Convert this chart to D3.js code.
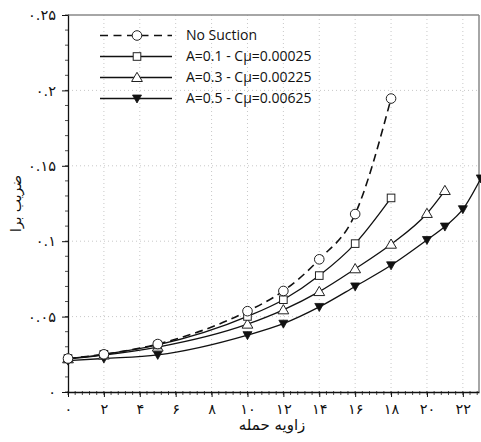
<!DOCTYPE html>
<html><head><meta charset="utf-8">
<script src="https://cdn.jsdelivr.net/npm/d3@7"></script>
<style>
html,body{margin:0;padding:0;background:#fff;}
svg{display:block;}
</style></head>
<body>
<svg id="chart" width="481" height="442"></svg>
<script>
// ---- data ----
const seriesNames = ["No Suction", "A=0.1 - Cμ=0.00025", "A=0.3 - Cμ=0.00225", "A=0.5 - Cμ=0.00625"];
const noSuctionX = [0, 2, 5, 10, 12, 14, 16, 18];
const noSuctionY = [0.0222, 0.0250, 0.0318, 0.0536, 0.0670, 0.0880, 0.1180, 0.1946];
const a01X = [0, 2, 5, 10, 12, 14, 16, 18];
const a01Y = [0.0222, 0.0250, 0.0312, 0.0501, 0.0612, 0.0772, 0.0984, 0.1287];
const a03X = [0, 2, 5, 10, 12, 14, 16, 18, 20, 21];
const a03Y = [0.0220, 0.0245, 0.0298, 0.0450, 0.0545, 0.0666, 0.0817, 0.0980, 0.1184, 0.1336];
const a05X = [0, 2, 5, 10, 12, 14, 16, 18, 20, 21, 22, 23];
const a05Y = [0.0208, 0.0222, 0.0246, 0.0377, 0.0453, 0.0564, 0.0700, 0.0840, 0.1008, 0.1097, 0.1212, 0.1416];
const xTicks = [0, 2, 4, 6, 8, 10, 12, 14, 16, 18, 20, 22];
const yTicks = [0, 0.05, 0.1, 0.15, 0.2, 0.25];
const xTitle = "زاویه حمله";
const yTitle = "ضریب برا";

// ---- layout ----
const svg = d3.select("#chart");
const L = 68, R = 479, T = 15, B = 392;
const x = d3.scaleLinear().domain([0, 22.9]).range([L, R]);
const y = d3.scaleLinear().domain([0, 0.25]).range([B, T]);

const fa = s => String(s).replace(/[0-9]/g, d => "۰۱۲۳۴۵۶۷۸۹"[+d]);
const fmtY = v => v === 0 ? fa("0") : fa(d3.format(".2~f")(v));

// grid
const g = svg.append("g");
g.selectAll(".gx").data(xTicks.filter(t => t > 0)).join("line")
  .attr("x1", d => x(d)).attr("x2", d => x(d)).attr("y1", T).attr("y2", B)
  .attr("stroke", "#c8c8c8").attr("stroke-width", 1).attr("stroke-dasharray", "1,3");
g.selectAll(".gy").data(yTicks.filter(t => t > 0 && t < 0.25)).join("line")
  .attr("x1", L).attr("x2", R).attr("y1", d => y(d)).attr("y2", d => y(d))
  .attr("stroke", "#c8c8c8").attr("stroke-width", 1).attr("stroke-dasharray", "1,3");

// frame top/right (gray)
svg.append("line").attr("x1", L).attr("x2", R).attr("y1", T).attr("y2", T).attr("stroke", "#888").attr("stroke-width", 1.5);
svg.append("line").attr("x1", R).attr("x2", R).attr("y1", T).attr("y2", B).attr("stroke", "#888").attr("stroke-width", 1.5);

// minor ticks
const xMinor = d3.range(0, 22.9, 0.4);
svg.append("g").selectAll("line").data(xMinor).join("line")
  .attr("x1", d => x(d)).attr("x2", d => x(d)).attr("y1", B - 1).attr("y2", B + 3)
  .attr("stroke", "#222").attr("stroke-width", 0.8);
const yMinor = d3.range(0, 0.2501, 0.01);
svg.append("g").selectAll("line").data(yMinor).join("line")
  .attr("x1", L - 3).attr("x2", L + 1).attr("y1", d => y(d)).attr("y2", d => y(d))
  .attr("stroke", "#222").attr("stroke-width", 0.8);

// axes
const xAxis = d3.axisBottom(x).tickValues(xTicks).tickSize(5).tickSizeOuter(0).tickPadding(7).tickFormat(d => fa(d));
const yAxis = d3.axisLeft(y).tickValues(yTicks).tickSize(6).tickSizeOuter(0).tickPadding(6).tickFormat(fmtY);
const gx = svg.append("g").attr("transform", `translate(0,${B})`).call(xAxis);
const gy = svg.append("g").attr("transform", `translate(${L},0)`).call(yAxis);
[gx, gy].forEach(a => {
  a.select(".domain").attr("stroke", "#111").attr("stroke-width", 1.3);
  a.selectAll(".tick line").attr("stroke", "#111").attr("stroke-width", 1);
  a.selectAll(".tick text").attr("font-family", "DejaVu Sans").attr("font-size", 14.5).attr("fill", "#111");
});
gy.selectAll(".tick text").attr("direction", "ltr");

// titles
svg.append("text").attr("x", 272).attr("y", 430).attr("text-anchor", "middle")
  .attr("font-family", "DejaVu Sans").attr("font-size", 15).attr("fill", "#111").text(xTitle);
svg.append("text").attr("transform", `translate(21,${(T + B) / 2}) rotate(-90)`).attr("text-anchor", "middle")
  .attr("font-family", "DejaVu Sans").attr("font-size", 14).attr("fill", "#111").text(yTitle);

// series
const series = [
  {xs: noSuctionX, ys: noSuctionY, dash: "8,5", sym: "circle"},
  {xs: a01X, ys: a01Y, dash: null, sym: "square"},
  {xs: a03X, ys: a03Y, dash: null, sym: "triangle"},
  {xs: a05X, ys: a05Y, dash: null, sym: "invtri"}
];
const line = d3.line().x(d => x(d[0])).y(d => y(d[1])).curve(d3.curveMonotoneX);

function drawMarker(sel, sym) {
  if (sym === "circle") {
    sel.append("circle").attr("r", 4.8).attr("fill", "#fff").attr("stroke", "#222").attr("stroke-width", 1);
  } else if (sym === "square") {
    sel.append("rect").attr("x", -3.8).attr("y", -3.8).attr("width", 7.6).attr("height", 7.6)
      .attr("fill", "#fff").attr("stroke", "#222").attr("stroke-width", 1);
  } else if (sym === "triangle") {
    sel.append("path").attr("d", "M0,-5.2 L5.4,4 L-5.4,4 Z").attr("fill", "#fff").attr("stroke", "#222").attr("stroke-width", 1);
  } else {
    sel.append("path").attr("d", "M-4.5,-3.5 L4.5,-3.5 L0,4.5 Z").attr("fill", "#111").attr("stroke", "#111").attr("stroke-width", 0.8);
  }
}

series.slice().reverse().forEach(s => {
  const pts = s.xs.map((v, i) => [v, s.ys[i]]);
  svg.append("path").datum(pts).attr("d", line).attr("fill", "none")
    .attr("stroke", "#111").attr("stroke-width", s.dash ? 1.6 : 1.3)
    .attr("stroke-dasharray", s.dash);
});
series.slice().reverse().forEach(s => {
  const pts = s.xs.map((v, i) => [v, s.ys[i]]);
  const gm = svg.append("g");
  pts.forEach(p => {
    const m = gm.append("g").attr("transform", `translate(${x(p[0])},${y(p[1])})`);
    drawMarker(m, s.sym);
  });
});

// legend
const lg = svg.append("g");
const legY = [35.5, 56.5, 77.5, 98.5];
series.forEach((s, i) => {
  lg.append("line").attr("x1", 100).attr("x2", 172).attr("y1", legY[i]).attr("y2", legY[i])
    .attr("stroke", "#111").attr("stroke-width", s.dash ? 1.6 : 1.3).attr("stroke-dasharray", s.dash ? "8,5.5" : null);
  const m = lg.append("g").attr("transform", `translate(137,${legY[i]})`);
  drawMarker(m, s.sym);
  lg.append("text").attr("x", 186).attr("y", legY[i]).attr("dy", "0.35em")
    .attr("font-family", "Open Sans").attr("font-size", 14).attr("fill", "#111").text(seriesNames[i]);
});
</script>
</body></html>
